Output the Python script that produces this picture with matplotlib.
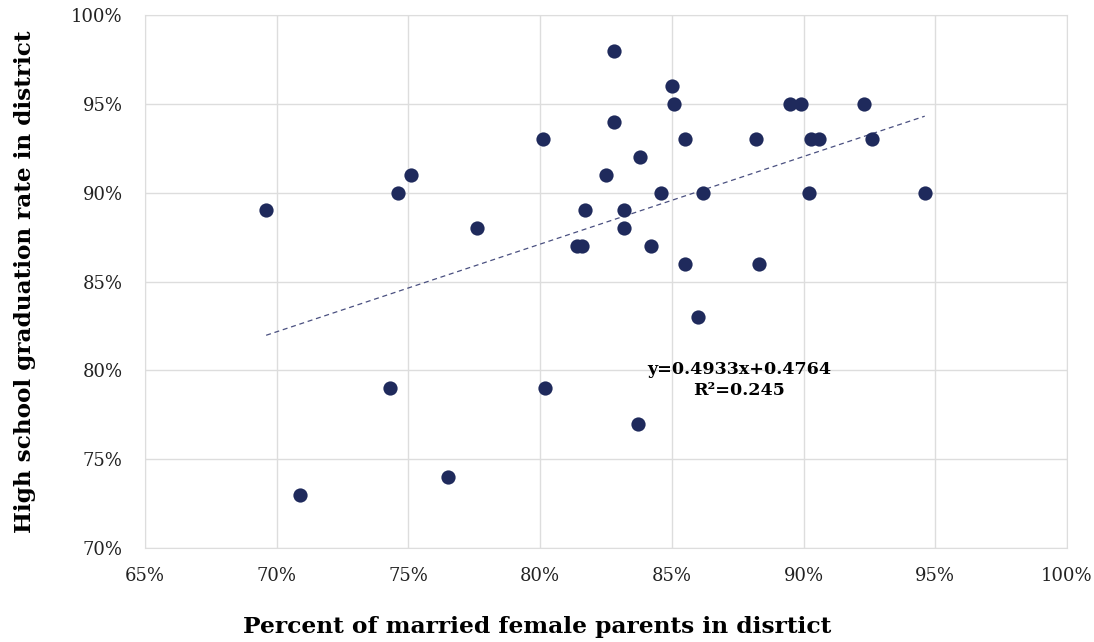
import matplotlib.pyplot as plt
from matplotlib.ticker import PercentFormatter

# percent of married female parents (x) vs graduation rate (y)
married = [0.696, 0.709, 0.743, 0.746, 0.751, 0.765, 0.776, 0.801, 0.802,
           0.814, 0.816, 0.817, 0.825, 0.828, 0.828, 0.832, 0.832, 0.837,
           0.838, 0.842, 0.846, 0.850, 0.851, 0.855, 0.855, 0.860, 0.862,
           0.882, 0.883, 0.895, 0.899, 0.902, 0.903, 0.906, 0.923, 0.926, 0.946]
grad = [0.89, 0.73, 0.79, 0.90, 0.91, 0.74, 0.88, 0.93, 0.79,
        0.87, 0.87, 0.89, 0.91, 0.98, 0.94, 0.89, 0.88, 0.77,
        0.92, 0.87, 0.90, 0.96, 0.95, 0.93, 0.86, 0.83, 0.90,
        0.93, 0.86, 0.95, 0.95, 0.90, 0.93, 0.93, 0.95, 0.93, 0.90]

slope = 0.4933
intercept = 0.4764
x_ticks = [0.65, 0.70, 0.75, 0.80, 0.85, 0.90, 0.95, 1.00]
y_ticks = [0.70, 0.75, 0.80, 0.85, 0.90, 0.95, 1.00]

plt.rcParams['font.family'] = 'DejaVu Serif'

fig = plt.figure(figsize=(10.94, 6.42), dpi=100)
ax = fig.add_axes([0.1325, 0.1464, 0.8428, 0.8302])

ax.scatter(married, grad, s=105, color='#1f2a5c', zorder=3, linewidths=0)

# trend line across the data range
x0, x1 = min(married), max(married)
ax.plot([x0, x1], [slope * x0 + intercept, slope * x1 + intercept],
        linestyle=(0, (4, 3)), color='#4a5080', linewidth=0.9, zorder=2)

ax.text(0.8755, 0.7946, 'y=0.4933x+0.4764\nR²=0.245', ha='center', va='center',
        fontsize=12.6, fontweight='bold', linespacing=1.35)

ax.set_xlim(0.65, 1.0)
ax.set_ylim(0.70, 1.0)
ax.set_xticks(x_ticks)
ax.set_yticks(y_ticks)
ax.xaxis.set_major_formatter(PercentFormatter(1.0, decimals=0))
ax.yaxis.set_major_formatter(PercentFormatter(1.0, decimals=0))
ax.tick_params(length=0, labelsize=13, colors='#222222')
ax.tick_params(axis='x', pad=14)
ax.tick_params(axis='y', pad=16)
ax.grid(True, color='#dddddd', linewidth=1)
ax.set_axisbelow(True)
for s in ax.spines.values():
    s.set_color('#dddddd')

ax.set_xlabel('Percent of married female parents in disrtict',
              fontsize=16.8, fontweight='bold')
ax.xaxis.set_label_coords(0.425, -0.128)
ax.set_ylabel('High school graduation rate in district',
              fontsize=16.7, fontweight='bold')
ax.yaxis.set_label_coords(-0.118, 0.5)

fig.savefig('out.png', dpi=100)
